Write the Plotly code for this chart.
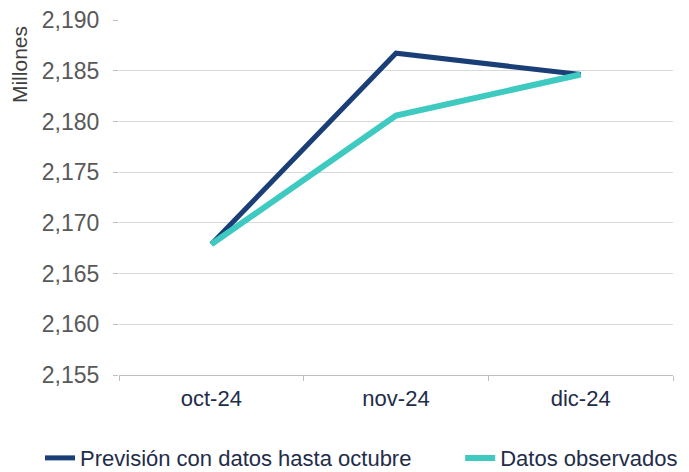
import plotly.graph_objects as go

categories = ["oct-24", "nov-24", "dic-24"]
forecast = [2167.9, 2186.75, 2184.65]
observed = [2167.9, 2180.6, 2184.65]
y_ticks = [2155, 2160, 2165, 2170, 2175, 2180, 2185, 2190]

fig = go.Figure()
fig.add_trace(go.Scatter(x=categories, y=forecast, mode="lines",
                         name="Previsión con datos hasta octubre",
                         line=dict(color="#1a3f77", width=5), legend="legend"))
fig.add_trace(go.Scatter(x=categories, y=observed, mode="lines",
                         name="Datos observados",
                         line=dict(color="#3ec9c1", width=6), legend="legend2"))

legend_font = dict(size=22, color="#1f2d4a")

# page body has an 8px default margin, so the figure is sized to fit the window
fig.update_layout(
    width=681, height=464,
    margin=dict(l=111, r=16, t=12, b=97, autoexpand=False),
    paper_bgcolor="white", plot_bgcolor="white",
    font=dict(family="Liberation Sans, Arial, sans-serif", size=22, color="#595959"),
    showlegend=True,
    legend=dict(orientation="h", x=0.047, xref="container", xanchor="left",
                y=0.03, yref="container", yanchor="middle",
                font=legend_font, itemwidth=30),
    legend2=dict(orientation="h", x=0.664, xref="container", xanchor="left",
                 y=0.03, yref="container", yanchor="middle",
                 font=legend_font, itemwidth=30),
    xaxis=dict(type="category", showgrid=False, showline=True, linecolor="#bfbfbf",
               linewidth=1, ticks="outside", tickson="boundaries", ticklen=5,
               tickcolor="#bfbfbf", tickfont=dict(size=22, color="#1f2d4a"),
               range=[-0.5, 2.5], ticklabelstandoff=4, automargin=False),
    yaxis=dict(range=[2155, 2190.03], tickvals=y_ticks, tickformat=",d",
               showgrid=True, gridcolor="#d9d9d9", gridwidth=1,
               zeroline=False, showline=False, ticks="outside", ticklen=5,
               tickcolor="#bfbfbf", tickfont=dict(size=23, color="#595959"),
               ticklabelstandoff=9, ticklabeloverflow="allow", automargin=False),
    annotations=[dict(text="Millones", textangle=-90, xref="paper", yref="paper",
                      x=-0.18, y=0.988, xanchor="center", yanchor="top",
                      showarrow=False, font=dict(size=21, color="#404040"))],
)

fig.write_html("out.html")
